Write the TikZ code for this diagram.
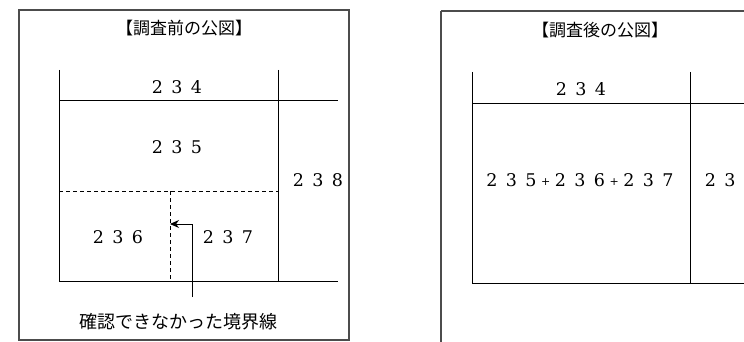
\documentclass[tikz,border=0pt]{standalone}
\usepackage{fontspec}
\newfontfamily\jp{Noto Sans CJK JP}
\newfontfamily\numfont{DejaVu Serif}
\usetikzlibrary{arrows.meta}
\newcommand\dg[1]{\makebox[19.5pt]{#1}}
\newcommand\pl{\makebox[10pt]{\raisebox{1pt}{\fontsize{11}{12}\selectfont +}}}
\tikzset{
  frame/.style={draw=black!70, line width=1.1pt},
  parcel/.style={draw=black, line width=0.9pt},
  hidden/.style={draw=black, line width=0.9pt, dash pattern=on 4pt off 3pt},
  num/.style={inner sep=0pt, font=\numfont\fontsize{17.5}{20}\selectfont},
  jtext/.style={inner sep=0pt, font=\jp\fontsize{18}{20}\selectfont},
  ttl/.style={inner sep=0pt, font=\jp\fontsize{17}{20}\selectfont},
}
\begin{document}
\begin{tikzpicture}[x=1pt,y=-1pt]
\useasboundingbox (0,0) rectangle (744,342);
\clip (0,0) rectangle (744,342);
% ---------- left panel ----------
\draw[frame] (19,10) rectangle (349,340);
\node[ttl] (t1) at (184,28) {【調査前の公図】};
\coordinate (a1) at (59,70);
\coordinate (a2) at (59,281);
\coordinate (b1) at (278,70);
\coordinate (b2) at (278,281);
\coordinate (h1) at (59,100);
\coordinate (h2) at (338,100);
\coordinate (g2) at (338,281);
\coordinate (d1) at (59,191);
\coordinate (d2) at (278,191);
\coordinate (v1) at (170,191);
\coordinate (v2) at (170,281);
\draw[parcel] (a1) -- (a2) -- (g2);
\draw[parcel] (b1) -- (b2);
\draw[parcel] (h1) -- (h2);
\draw[hidden] (d1) -- (d2);
\draw[hidden] (v1) -- (v2);
\node[num] (p234) at (177,87) {\dg{2}\dg{3}\dg{4}};
\node[num] (p235) at (177,147) {\dg{2}\dg{3}\dg{5}};
\node[num] (p238) at (318,180) {\dg{2}\dg{3}\dg{8}};
\node[num] (p236) at (118,237) {\dg{2}\dg{3}\dg{6}};
\node[num] (p237) at (228,237) {\dg{2}\dg{3}\dg{7}};
\node[jtext] (lab) at (178,322) {確認できなかった境界線};
\coordinate (tip) at (170,224);
\coordinate (bend) at (192,224);
\coordinate (tail) at (192,297);
\draw[parcel, -{Stealth[length=9pt,width=8pt]}] (tail) -- (bend) -- (tip);
% ---------- right panel ----------
\draw[frame] (441,11) -- (750,11);
\draw[frame] (441,11) -- (441,350);
\node[ttl] (t2) at (600,30) {【調査後の公図】};
\coordinate (c1) at (472,72);
\coordinate (c2) at (472,283);
\coordinate (e1) at (690,72);
\coordinate (e2) at (690,283);
\coordinate (k1) at (472,103);
\coordinate (k2) at (750,103);
\coordinate (m2) at (750,283);
\draw[parcel] (c1) -- (c2) -- (m2);
\draw[parcel] (e1) -- (e2);
\draw[parcel] (k1) -- (k2);
\node[num] (q234) at (581,89) {\dg{2}\dg{3}\dg{4}};
\node[num] (qall) at (580,180) {\dg{2}\dg{3}\dg{5}\pl\dg{2}\dg{3}\dg{6}\pl\dg{2}\dg{3}\dg{7}};
\node[num] (q238) at (730,180) {\dg{2}\dg{3}\dg{8}};
\end{tikzpicture}
\end{document}
